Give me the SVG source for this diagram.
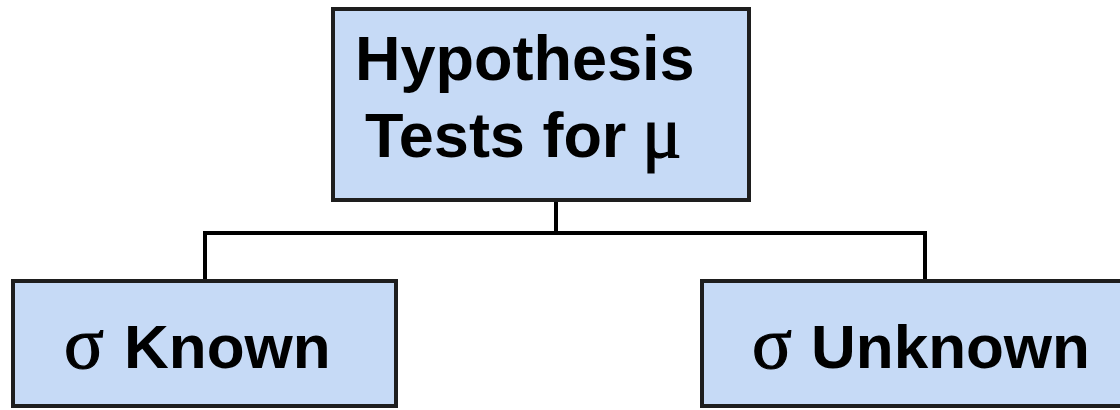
<svg xmlns="http://www.w3.org/2000/svg" width="1120" height="410" viewBox="0 0 1120 410">
<style>
.box{fill:#c6daf6;stroke:#1e1e1e;stroke-width:4}
.t{font-family:"Liberation Sans",Arial,sans-serif;font-weight:bold;fill:#000}
.g{font-family:"Liberation Serif","Times New Roman",serif;font-weight:normal;font-size:74px;stroke:#000;stroke-width:1.2}
.c{fill:none;stroke:#000;stroke-width:4}
</style>
<rect width="1120" height="410" fill="#fff"/>
<g id="connectors">
<path class="c" d="M556,200 V233 M205,280 V233 H925 V280"/>
</g>
<g id="top">
<rect class="box" x="333" y="9" width="416" height="191"/>
<text class="t" x="355" y="80" font-size="63">Hypothesis</text>
<text class="t" x="365" y="157" font-size="63">Tests for <tspan class="g" x="642">μ</tspan></text>
</g>
<g id="known">
<rect class="box" x="13" y="281" width="383" height="125"/>
<text class="t" x="64" y="368" font-size="62"><tspan class="g">σ</tspan><tspan x="124">Known</tspan></text>
</g>
<g id="unknown">
<rect class="box" x="702" y="281" width="430" height="125"/>
<text class="t" x="752" y="368" font-size="62"><tspan class="g">σ</tspan><tspan x="811">Unknown</tspan></text>
</g>
</svg>
